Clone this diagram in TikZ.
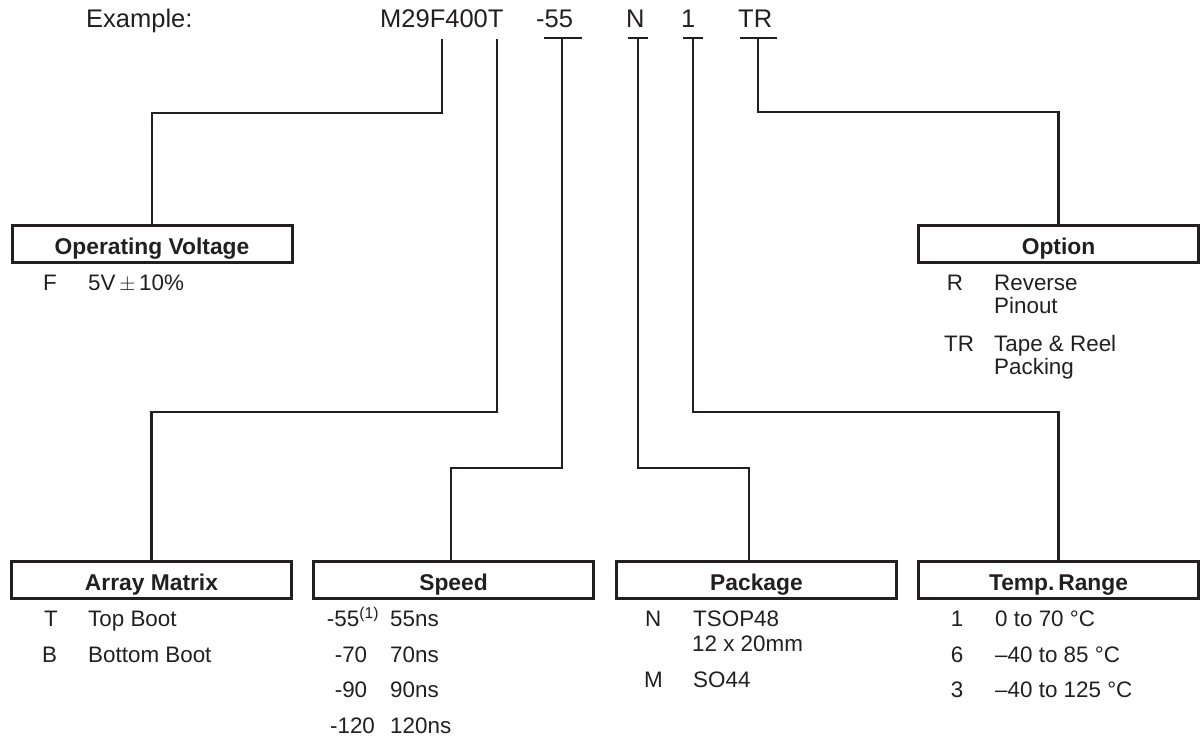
\documentclass[tikz,border=0pt]{standalone}
\usepackage{fontspec}
\setmainfont{Liberation Sans}
\definecolor{ink}{RGB}{35,31,32}
\begin{document}
\begin{tikzpicture}[x=1pt,y=-1pt,
  toptxt/.style={inner sep=0pt, anchor=base west, text=ink, font=\fontsize{25.5}{30}\selectfont},
  lbl/.style={inner sep=0pt, anchor=base west, text=ink, font=\fontsize{22.4}{26}\selectfont},
  codec/.style={inner sep=0pt, anchor=base, text=ink, font=\fontsize{22.4}{26}\selectfont},
  hbox/.style={draw=ink, line width=3pt, minimum width=280pt, minimum height=37pt, inner sep=0pt, outer sep=0pt},
  head/.style={inner sep=0pt, anchor=base, text=ink, font=\bfseries\fontsize{22.8}{27}\selectfont},
  wire/.style={draw=ink, line width=2.4pt}
]
\useasboundingbox (0,0) rectangle (1200,742);

% top line
\node[toptxt] (ex) at (86,27) {Example:};
\node[toptxt] (pn) at (380,27) {M29F400T};
\node[toptxt] (s55) at (536,27) {-55};
\node[toptxt] (sN) at (626,27) {N};
\node[toptxt] (s1) at (681,27) {1};
\node[toptxt] (sTR) at (738,27) {TR};

% boxes
\node[hbox] (ov) at (152,243.5) {};
\node[hbox] (op) at (1058.5,243.5) {};
\node[hbox] (am) at (151.5,580) {};
\node[hbox] (sp) at (453.5,580) {};
\node[hbox] (pk) at (756.5,580) {};
\node[hbox] (tr) at (1058.5,580) {};

\node[head] (ovt) at ([yshift=8pt]ov.south) {Operating Voltage};
\node[head] (opt) at ([yshift=8pt]op.south) {Option};
\node[head] (amt) at ([yshift=8pt]am.south) {Array Matrix};
\node[head] (spt) at ([yshift=8pt]sp.south) {Speed};
\node[head] (pkt) at ([yshift=8pt]pk.south) {Package};
\node[head] (trt) at ([yshift=8pt]tr.south) {Temp.\,Range};

% connector anchor points
\coordinate (cF) at (442,39);   \coordinate (kF) at (442,113);
\coordinate (cT) at (497,39);   \coordinate (kT) at (497,412);
\coordinate (c55) at (562,38);  \coordinate (k55) at (562,468);
\coordinate (b55l) at (544,38); \coordinate (b55r) at (582,38);
\coordinate (cN) at (638,38);   \coordinate (kN) at (638,468);
\coordinate (bNl) at (628,38);  \coordinate (bNr) at (648,38);
\coordinate (c1) at (693,38);   \coordinate (k1) at (693,412);
\coordinate (b1l) at (683,38);  \coordinate (b1r) at (703,38);
\coordinate (cTR) at (758,38);  \coordinate (kTR) at (758,112);
\coordinate (bTRl) at (740,38); \coordinate (bTRr) at (777,38);

\draw[wire] (cF) -- (kF) -| (ov.north);
\draw[wire] (cT) -- (kT) -| (am.north);
\draw[wire] (b55l) -- (b55r);
\draw[wire] (c55) -- (k55) -| ([xshift=-2.5pt]sp.north);
\draw[wire] (bNl) -- (bNr);
\draw[wire] (cN) -- (kN) -| ([xshift=-7.5pt]pk.north);
\draw[wire] (b1l) -- (b1r);
\draw[wire] (c1) -- (k1) -| (tr.north);
\draw[wire] (bTRl) -- (bTRr);
\draw[wire] (cTR) -- (kTR) -| (op.north);

% Operating voltage
\node[lbl] (ovc1) at (43,290) {F};
\node[lbl] (ovd1) at (88,290) {5V\,$\pm$\,10\%};

% Option
\node[codec] (opc1) at (955,290) {R};
\node[lbl] (opd1) at (994,290) {Reverse};
\node[lbl] (opd1b) at (994,313) {Pinout};
\node[codec] (opc2) at (959,351) {TR};
\node[lbl] (opd2) at (994,351) {Tape \& Reel};
\node[lbl] (opd2b) at (994,374) {Packing};

% Array matrix
\node[lbl] (amc1) at (44,626) {T};
\node[lbl] (amd1) at (88,626) {Top Boot};
\node[lbl] (amc2) at (42,662) {B};
\node[lbl] (amd2) at (88,662) {Bottom Boot};

% Speed
\node[codec] (spc1) at (353,626) {-55\textsuperscript{(1)}};
\node[lbl] (spd1) at (390,626) {55ns};
\node[codec] (spc2) at (351,662) {-70};
\node[lbl] (spd2) at (390,662) {70ns};
\node[codec] (spc3) at (351,697) {-90};
\node[lbl] (spd3) at (390,697) {90ns};
\node[codec] (spc4) at (352.5,733) {-120};
\node[lbl] (spd4) at (390,733) {120ns};

% Package
\node[lbl] (pkc1) at (645,626) {N};
\node[lbl] (pkd1) at (693,626) {TSOP48};
\node[lbl] (pkd1b) at (692,651) {12 x 20mm};
\node[lbl] (pkc2) at (644,687) {M};
\node[lbl] (pkd2) at (693,687) {SO44};

% Temp range
\node[codec] (trc1) at (957,626) {1};
\node[lbl] (trd1) at (995,626) {0 to 70 °C};
\node[codec] (trc2) at (957,662) {6};
\node[lbl] (trd2) at (995,662) {–40 to 85 °C};
\node[codec] (trc3) at (957,697) {3};
\node[lbl] (trd3) at (995,697) {–40 to 125 °C};
\end{tikzpicture}
\end{document}
